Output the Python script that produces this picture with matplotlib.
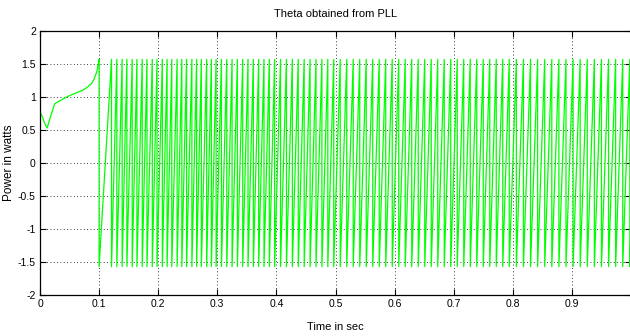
import matplotlib
matplotlib.use("Agg")
import matplotlib.pyplot as plt
import numpy as np

# Initial transient before PLL locks (time in s, value)
transient_t = [0.0, 0.004, 0.008, 0.012, 0.017, 0.025, 0.035, 0.045, 0.055, 0.063, 0.072, 0.080, 0.087, 0.092, 0.096, 0.098, 0.100]
transient_y = [0.78, 0.70, 0.60, 0.53, 0.68, 0.90, 0.95, 1.00, 1.04, 1.07, 1.10, 1.15, 1.20, 1.28, 1.38, 1.47, 1.57]

# Sawtooth wrap instants (time of each drop from top to bottom)
wrap_times = [0.100, 0.121, 0.130, 0.139, 0.147, 0.156, 0.164, 0.173, 0.181, 0.190, 0.198,
              0.207, 0.215, 0.223, 0.232, 0.240, 0.248, 0.257, 0.265, 0.273, 0.282, 0.290, 0.298,
              0.307, 0.316, 0.325, 0.334, 0.343, 0.352, 0.361, 0.370, 0.379, 0.388, 0.397,
              0.407, 0.417, 0.427, 0.437, 0.447, 0.457, 0.467, 0.477, 0.487, 0.497,
              0.508, 0.519, 0.530, 0.541, 0.552, 0.563, 0.574, 0.585, 0.596,
              0.607, 0.618, 0.629, 0.640, 0.651, 0.662, 0.673, 0.684, 0.695,
              0.706, 0.717, 0.728, 0.739, 0.750, 0.761, 0.772, 0.783, 0.794,
              0.806, 0.818, 0.830, 0.842, 0.854, 0.866, 0.878, 0.890,
              0.902, 0.914, 0.926, 0.938, 0.950, 0.962, 0.974, 0.986, 0.998]
saw_top = 1.57
saw_bottom = -1.57

x_ticks = [0, 0.1, 0.2, 0.3, 0.4, 0.5, 0.6, 0.7, 0.8, 0.9]
x_ticklabels = ["0", "0.1", "0.2", "0.3", "0.4", "0.5", "0.6", "0.7", "0.8", "0.9"]
y_ticks = [-2, -1.5, -1, -0.5, 0, 0.5, 1, 1.5, 2]
y_ticklabels = ["-2", "-1.5", "-1", "-0.5", "0", "0.5", "1", "1.5", "2"]

# Build the polyline
t = list(transient_t)
y = list(transient_y)
for i, w in enumerate(wrap_times):
    t.append(w); y.append(saw_bottom)
    if i + 1 < len(wrap_times):
        t.append(wrap_times[i + 1]); y.append(saw_top)
t.append(1.0); y.append(saw_bottom + (saw_top - saw_bottom) * 0.17)

plt.rcParams['font.family'] = ['Liberation Sans', 'DejaVu Sans']
plt.rcParams['axes.unicode_minus'] = False

fig = plt.figure(figsize=(6.3, 3.36), dpi=100)
ax = fig.add_axes([40/630, 1 - 295/336, 591/630, (295 - 31)/336])
ax.plot(t, y, color=(0, 1, 0), linewidth=0.9, antialiased=True)

ax.set_xlim(0, 1.0)
ax.set_ylim(-2, 2)
ax.set_xticks(x_ticks)
ax.set_xticklabels(x_ticklabels)
ax.set_yticks(y_ticks)
ax.set_yticklabels(y_ticklabels)
ax.tick_params(direction='in', length=4, width=0.8, top=True, right=True,
               labelsize=7.5, colors='black', pad=3)
ax.grid(True, color='black', linestyle=(0, (1, 3)), linewidth=0.6)
for s in ax.spines.values():
    s.set_linewidth(0.9)
    s.set_color('black')

ax.set_title("Theta obtained from PLL", fontsize=8, pad=10)
ax.set_xlabel("Time in sec", fontsize=8)
ax.xaxis.set_label_coords(0.5, -(322 - 295) / 264)
ax.set_ylabel("Power in watts", fontsize=8.5, va='center')
ax.yaxis.set_label_coords(-(40 - 9) / 591, 0.5)

fig.savefig("out.png", dpi=100)
